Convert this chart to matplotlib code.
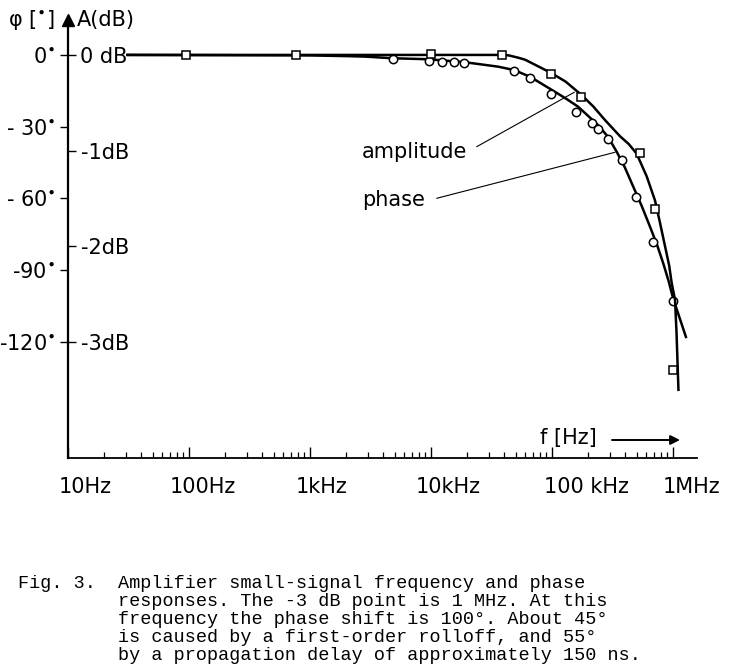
import matplotlib
matplotlib.use('Agg')
import matplotlib.pyplot as plt
import matplotlib.transforms as mtransforms
from matplotlib.ticker import LogLocator, NullFormatter

plt.rcParams['font.family'] = ['DejaVu Sans']
plt.rcParams['mathtext.fontset'] = 'dejavusans'

# measured amplitude points (squares), dB
amp_f = [95, 760, 1.0e4, 3.9e4, 9.9e4, 1.74e5, 5.3e5, 7.1e5, 9.95e5]
amp_db = [0, 0, 0.01, 0, -0.20, -0.44, -1.02, -1.61, -3.29]

# measured phase points (circles), degrees
ph_f = [4.9e3, 9.6e3, 1.24e4, 1.56e4, 1.88e4, 4.85e4, 6.6e4, 9.8e4, 1.57e5,
        2.13e5, 2.42e5, 2.9e5, 3.8e5, 4.95e5, 6.9e5, 1.0e6]
ph_deg = [-1.8, -2.4, -2.8, -3.0, -3.3, -6.6, -9.5, -16.4, -23.8,
          -28.3, -30.8, -35.0, -43.9, -59.4, -78.0, -102.7]

# drawn curves
amp_curve_f = [31, 1e3, 1e4, 3.9e4, 4.4e4, 5.3e4, 6.0e4, 9.9e4, 1.3e5, 1.76e5, 2.2e5,
               2.74e5, 3.65e5, 4.3e5, 5.0e5, 6.07e5, 7.1e5, 7.8e5, 8.6e5, 9.3e5,
               9.75e5, 1.04e6, 1.07e6, 1.11e6]
amp_curve_db = [0, 0, 0, 0, -0.005, -0.03, -0.05, -0.19, -0.28, -0.42, -0.54,
                -0.68, -0.85, -0.93, -1.03, -1.27, -1.52, -1.75, -2.0, -2.2,
                -2.38, -2.56, -2.90, -3.50]

ph_curve_f = [31, 1e3, 2e3, 2.85e3, 4.85e3, 9.44e3, 1.91e4, 3.58e4, 4.85e4, 6.58e4,
              9.95e4, 1.3e5, 1.64e5, 2.0e5, 2.4e5, 2.9e5, 3.43e5, 4.0e5, 4.7e5,
              5.5e5, 6.46e5, 7.4e5, 8.32e5, 9.2e5, 1.005e6, 1.28e6]
ph_curve_deg = [0, -0.2, -0.5, -0.7, -1.4, -1.8, -3.05, -4.9, -6.3, -9.1,
                -14.6, -18.2, -21.6, -25.6, -29.3, -34.2, -40.5, -47.0, -55.1,
                -63.0, -71.8, -79.5, -87.2, -94.5, -101.9, -117.9]

f_ticks = [10, 100, 1e3, 1e4, 1e5, 1e6]
f_labels = ['10Hz', '100Hz', '1kHz', '10kHz', '100 kHz', '1MHz']
ph_ticks = [0, -30, -60, -90, -120]
ph_labels = [r'0$^{\bullet}$', r'- 30$^{\bullet}$', r'- 60$^{\bullet}$',
             r'-90$^{\bullet}$', r'-120$^{\bullet}$']
db_ticks = [0, -1, -2, -3]
db_labels = ['0 dB', '-1dB', '-2dB', '-3dB']

caption = [
    'Amplifier small-signal frequency and phase',
    'responses. The -3 dB point is 1 MHz. At this',
    'frequency the phase shift is 100\u00b0. About 45\u00b0',
    'is caused by a first-order rolloff, and 55\u00b0',
    'by a propagation delay of approximately 150 ns.',
]

W, H = 734, 672
fig = plt.figure(figsize=(W / 100, H / 100), dpi=100)
ax = fig.add_axes([68 / W, (H - 458) / H, 629 / W, 438 / H])

ylo, yhi = -168.5, 14.6
ax.set_xscale('log')
ax.set_xlim(10, 1.58e6)
ax.set_ylim(ylo, yhi)

for s in ['top', 'right']:
    ax.spines[s].set_visible(False)
ax.spines['left'].set_linewidth(1.6)
ax.spines['bottom'].set_linewidth(1.3)

ax.set_xticks(f_ticks)
ax.set_xticklabels(f_labels, fontsize=15)
ax.xaxis.set_minor_locator(LogLocator(base=10, subs=range(2, 10)))
ax.xaxis.set_minor_formatter(NullFormatter())
ax.tick_params(axis='x', which='major', direction='in', length=8, width=1, pad=14)
ax.tick_params(axis='x', which='minor', direction='in', length=4, width=0.9)
# labels sit a little right of their ticks in the original
offsets = [17, 14, 12, 17, 34, 19]
for lbl, dx in zip(ax.get_xticklabels(), offsets):
    lbl.set_transform(lbl.get_transform() +
                      mtransforms.ScaledTranslation(dx / 100, 0, fig.dpi_scale_trans))

ax.set_yticks(ph_ticks)
ax.set_yticklabels(ph_labels, fontsize=15)
ax.tick_params(axis='y', direction='out', length=6, width=1, pad=3)

# amplitude axis shares the left spine, labels on its right side
ax2 = ax.twinx()
ax2.set_ylim(ylo / 40, yhi / 40)
for s in ['top', 'right', 'left', 'bottom']:
    ax2.spines[s].set_visible(False)
ax2.spines['right'].set_position(('axes', 0))
ax2.yaxis.tick_right()
ax2.set_yticks(db_ticks)
ax2.set_yticklabels(db_labels, fontsize=15)
ax2.tick_params(axis='y', direction='out', length=6, width=1, pad=3)

ax.plot(ph_curve_f, ph_curve_deg, color='black', lw=1.8, zorder=2)
ax2.plot(amp_curve_f, amp_curve_db, color='black', lw=1.8, zorder=2)
ax.plot(ph_f, ph_deg, 'o', ms=6, mfc='white', mec='black', mew=1.1, zorder=3)
ax2.plot(amp_f, amp_db, 's', ms=6, mfc='white', mec='black', mew=1.1, zorder=3)

# arrow head on the y axis
ax.plot([0], [1], marker='^', ms=8, color='black', transform=ax.transAxes, clip_on=False)

# labels with leader lines
fig.text(362 / W, 1 - 151.7 / H, 'amplitude', fontsize=15, va='center', ha='left')
fig.text(362 / W, 1 - 200 / H, 'phase', fontsize=15, va='center', ha='left')
ax2.annotate('', xy=(1.53e5, -0.39), xycoords='data',
             xytext=(476.7, H - 146.7), textcoords='figure pixels',
             arrowprops=dict(arrowstyle='-', lw=0.8, color='black', shrinkA=0, shrinkB=0))
ax.annotate('', xy=(3.32e5, -40.7), xycoords='data',
            xytext=(436.7, H - 198.3), textcoords='figure pixels',
            arrowprops=dict(arrowstyle='-', lw=0.8, color='black', shrinkA=0, shrinkB=0))

# axis titles
fig.text(8 / W, 1 - 20 / H, r'φ [$^{\bullet}$]', fontsize=15, va='center', ha='left')
fig.text(77 / W, 1 - 20 / H, 'A(dB)', fontsize=15, va='center', ha='left')
fig.text(540 / W, 1 - 438 / H, 'f [Hz]', fontsize=15, va='center', ha='left')
ax.annotate('', xy=(680, H - 440), xycoords='figure pixels',
            xytext=(612, H - 440), textcoords='figure pixels',
            arrowprops=dict(arrowstyle='-|>', lw=1.4, color='black',
                            mutation_scale=14, shrinkA=0, shrinkB=0))

# caption
fig.text(18 / W, 1 - 583 / H, 'Fig. 3.', family='Liberation Mono', fontsize=13.3, va='center')
for i, line in enumerate(caption):
    fig.text(118 / W, 1 - (583 + 18 * i) / H, line, family='Liberation Mono',
             fontsize=13.3, va='center')

fig.savefig('out.png', dpi=100)
